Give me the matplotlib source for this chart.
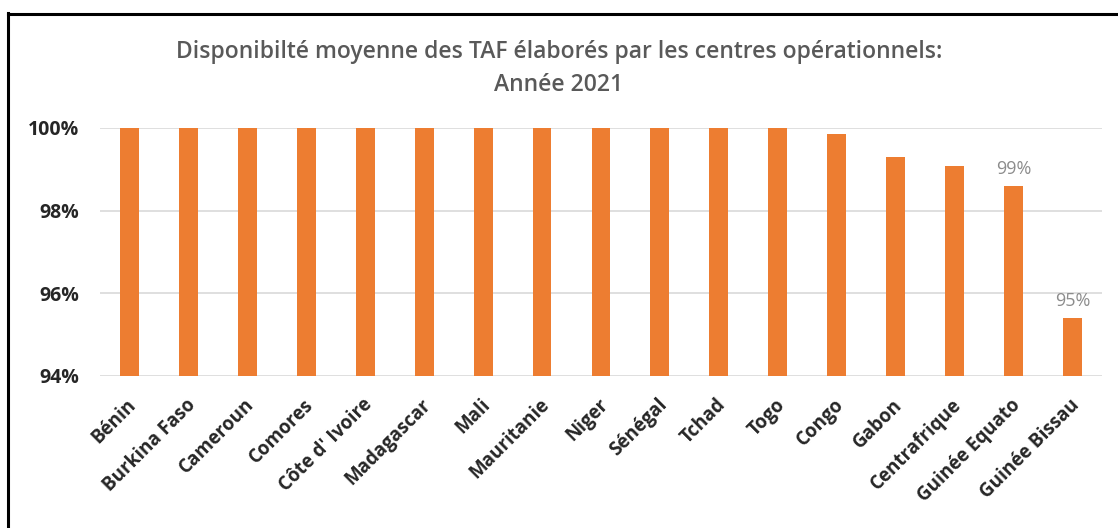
import matplotlib.pyplot as plt
from matplotlib.lines import Line2D
import matplotlib.transforms as mtransforms
import matplotlib.ticker as mticker

countries = ['Bénin', 'Burkina Faso', 'Cameroun', 'Comores', "Côte d' Ivoire",
             'Madagascar', 'Mali', 'Mauritanie', 'Niger', 'Sénégal', 'Tchad',
             'Togo', 'Congo', 'Gabon', 'Centrafrique', 'Guinée Equato', 'Guinée Bissau']
availability = [100, 100, 100, 100, 100, 100, 100, 100, 100, 100, 100, 100,
                99.85, 99.3, 99.08, 98.6, 95.4]
labelled = ['Guinée Equato', 'Guinée Bissau']
yticks = [94, 96, 98, 100]

plt.rcParams['font.family'] = ['Open Sans', 'DejaVu Sans']

fig = plt.figure(figsize=(11.18, 5.28), dpi=100)
ax = fig.add_axes([0.0894, 0.288, 0.8963, 0.4696])

x = range(len(countries))
bars = ax.bar(x, availability, width=0.32, color='#ED7D31', zorder=3)

for bar, name, val in zip(bars, countries, availability):
    if name in labelled:
        ax.text(bar.get_x() + bar.get_width() / 2, val + 0.2, f'{val:.0f}%',
                ha='center', va='bottom', fontsize=13, color='#8c8c8c')

ax.set_xlim(-0.5, len(countries) - 0.5)
ax.set_ylim(94, 100)
ax.set_yticks(yticks)
ax.yaxis.set_major_formatter(mticker.FuncFormatter(lambda v, p: f'{v:.0f}%'))
ax.set_xticks(list(x))
ax.set_xticklabels([])

# category labels drawn as rotated text hanging below each bar
base = mtransforms.blended_transform_factory(ax.transData, ax.transAxes)
off = mtransforms.ScaledTranslation(-3 / 100, -19 / 100, fig.dpi_scale_trans)
for i, name in enumerate(countries):
    ax.text(i, 0, name, transform=base + off, rotation=45, rotation_mode='anchor',
            ha='right', va='top', fontsize=13.5, fontweight='bold', color='#262626')

for lab in ax.get_yticklabels():
    lab.set_fontsize(14)
    lab.set_fontweight('bold')
    lab.set_color('#262626')
ax.tick_params(length=0)
ax.tick_params(axis='y', pad=15)
ax.grid(axis='y', color='#d9d9d9', linewidth=1.2, zorder=0)
for s in ax.spines.values():
    s.set_visible(False)

fig.text(0.5, 0.87, 'Disponibilté moyenne des TAF élaborés par les centres opérationnels:\nAnnée 2021',
         ha='center', va='center', fontsize=16.5, fontweight='semibold', color='#595959',
         linespacing=1.5)

# black frame (left and top edges)
fig.add_artist(Line2D([8 / 1118, 8 / 1118], [0, 1 - 13 / 528], color='black', lw=2.2,
                      transform=fig.transFigure))
fig.add_artist(Line2D([8 / 1118, 1], [1 - 14 / 528, 1 - 14 / 528], color='black', lw=2.2,
                      transform=fig.transFigure))

fig.savefig('out.png', dpi=100)
